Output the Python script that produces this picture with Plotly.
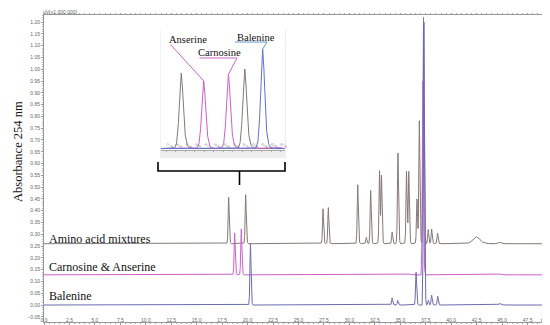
import numpy as np
import plotly.graph_objects as go

# ---------------- data ----------------
# Amino acid mixtures: retention time (min), apex absorbance, relative peak width
amino_rt = [18.14, 19.81, 27.41, 27.93, 30.82, 31.66, 32.09, 32.96, 33.15, 34.20, 34.77,
            35.61, 35.83, 36.64, 36.87, 37.28, 37.74, 38.08, 38.66, 42.47, 44.76]
amino_h = [0.457, 0.468, 0.408, 0.413, 0.510, 0.287, 0.486, 0.570, 0.546, 0.310, 0.645,
           0.567, 0.564, 0.450, 0.780, 1.220, 0.320, 0.322, 0.305, 0.290, 0.266]
amino_w = [1, 1, 1, 1, 1, 1, 1, 1, 1, 1, 1, 1, 1, 1, 1, 1, 1, 1, 1, 6.5, 2.5]
amino_base = 0.26

# Carnosine & Anserine
carn_rt = [18.73, 19.38, 20.70, 34.80, 35.90, 36.20, 37.22, 44.76]
carn_h = [0.305, 0.322, 0.131, 0.131, 0.132, 0.131, 0.950, 0.132]
carn_w = [1, 1, 1, 1, 1, 1, 1, 2.5]
carn_base = 0.128

# Balenine
bal_rt = [20.28, 34.20, 34.75, 36.55, 37.32, 37.75, 38.08, 38.68, 44.76]
bal_h = [0.260, 0.030, 0.020, 0.139, 1.200, 0.020, 0.042, 0.037, 0.006]
bal_w = [1, 1, 1, 1, 1, 1, 1, 1, 2.5]
bal_base = 0.0

series_names = ["Amino acid mixtures", "Carnosine & Anserine", "Balenine"]
inset_names = ["Anserine", "Carnosine", "Balenine"]

x_tickvals = [0, 2.5, 5, 7.5, 10, 12.5, 15, 17.5, 20, 22.5, 25, 27.5, 30, 32.5, 35, 37.5,
              40, 42.5, 45, 47.5, 49.2]
x_ticktext = ["0.0", "2.5", "5.0", "7.5", "10.0", "12.5", "15.0", "17.5", "20.0", "22.5",
              "25.0", "27.5", "30.0", "32.5", "35.0", "37.5", "40.0", "42.5", "45.0",
              "47.5", "min"]

# ---------------- peak rendering (shape template) ----------------
tpl_dt = np.array([-0.18, -0.13, -0.09, -0.055, -0.027, 0.0, 0.027, 0.055, 0.09, 0.13, 0.18, 0.26])
tpl_rel = np.array([0.0, 0.05, 0.20, 0.55, 0.88, 1.0, 0.88, 0.56, 0.24, 0.09, 0.02, 0.0])
t = np.arange(0, 50.0001, 0.005)


def trace_signal(rts, hs, ws, base):
    y = np.full_like(t, base)
    for rt, h, w in zip(rts, hs, ws):
        y += (h - base) * np.interp(t - rt, tpl_dt * w, tpl_rel, left=0, right=0)
    return y


y_amino = trace_signal(amino_rt, amino_h, amino_w, amino_base)
y_carn = trace_signal(carn_rt, carn_h, carn_w, carn_base)
y_bal = trace_signal(bal_rt, bal_h, bal_w, bal_base)

c_amino = "#857878"
c_carn = "#cc5fcc"
c_bal = "#6a6ab0"

fig = go.Figure()
for y, c in [(y_amino, c_amino), (y_carn, c_carn), (y_bal, c_bal)]:
    fig.add_trace(go.Scatter(x=t, y=y, mode="lines", line=dict(color=c, width=1),
                             hoverinfo="skip", xaxis="x", yaxis="y"))

# inset: same chromatograms, baseline removed
INSET_X = [17.6, 20.86]
INSET_Y = [-0.003, 0.31]
m = (t >= INSET_X[0]) & (t <= INSET_X[1])
for y, b, c in [(y_amino, amino_base, c_amino), (y_carn, carn_base, c_carn),
                (y_bal, bal_base, "#5f72cc")]:
    fig.add_trace(go.Scatter(x=t[m], y=y[m] - b, mode="lines", line=dict(color=c, width=1),
                             hoverinfo="skip", xaxis="x2", yaxis="y2"))

# ---------------- geometry helpers (pixel -> paper) ----------------
W, H = 550, 325
L, R, T, B = 36, 5, 7, 11
PW, PH = W - L - R, H - T - B


def px(x):
    return (x - L) / PW


def py(y):
    return (H - B - y) / PH


inset_dom_x = [px(152.7), px(276.7)]
inset_dom_y = [py(141.7), py(22)]


def ix(v):
    return inset_dom_x[0] + (v - INSET_X[0]) / (INSET_X[1] - INSET_X[0]) * (inset_dom_x[1] - inset_dom_x[0])


def iy(v):
    return inset_dom_y[0] + (v - INSET_Y[0]) / (INSET_Y[1] - INSET_Y[0]) * (inset_dom_y[1] - inset_dom_y[0])


tickfont = dict(family="Liberation Sans", size=5, color="#666")

fig.update_layout(
    width=W, height=H,
    margin=dict(l=L, r=R, t=T, b=B),
    paper_bgcolor="white", plot_bgcolor="white",
    showlegend=False,
    xaxis=dict(range=[0, 50], domain=[0, 1], showgrid=False, zeroline=False,
               showline=True, linecolor="#999", linewidth=1, mirror="allticks",
               ticks="outside", ticklen=1.5, tickcolor="#999", tickwidth=0.6,
               tickvals=x_tickvals, ticktext=x_ticktext, tickfont=tickfont,
               ticklabelstandoff=-9,
               minor=dict(ticks="outside", ticklen=1.2, dtick=0.5, tickcolor="#aaa"),
               automargin=False),
    yaxis=dict(range=[-0.072, 1.23], domain=[0, 1], showgrid=False, zeroline=False,
               showline=True, linecolor="#999", linewidth=1, mirror=True,
               ticks="outside", ticklen=2, tickcolor="#999", tickwidth=0.6,
               dtick=0.05, tick0=0, tickformat=".2f", tickfont=tickfont,
               minor=dict(ticks="outside", ticklen=1, dtick=0.01, tickcolor="#bbb"),
               automargin=False),
    xaxis2=dict(range=INSET_X, domain=inset_dom_x, anchor="y2", showgrid=False,
                zeroline=False, showline=True, linecolor="#aaa", linewidth=0.8,
                ticks="outside", ticklen=1.5, tickcolor="#aaa", dtick=0.25,
                ticklabelstandoff=-11,
                tickformat=".2f", tickfont=dict(family="Liberation Sans", size=3, color="#777"),
                automargin=False),
    yaxis2=dict(range=INSET_Y, domain=inset_dom_y, anchor="x2", visible=False),
)

shapes = []
# inset background
shapes.append(dict(type="rect", xref="paper", yref="paper", layer="below",
                   x0=px(152), x1=px(278), y0=py(150), y1=py(22),
                   fillcolor="#eeeeee", line=dict(width=0)))
# bracket under inset
shapes.append(dict(type="path", xref="paper", yref="paper",
                   path=f"M {px(150)} {py(154)} L {px(150)} {py(163)} L {px(277)} {py(163)} L {px(277)} {py(154)} "
                        f"M {px(231.5)} {py(163)} L {px(231.5)} {py(177)}",
                   line=dict(color="black", width=1.6)))
# pointer lines in inset
ans_apex = (ix(carn_rt[0]), iy(carn_h[0] - carn_base))
car_apex = (ix(carn_rt[1]), iy(carn_h[1] - carn_base))
bal_apex = (ix(bal_rt[0]), iy(bal_h[0] - bal_base))
shapes.append(dict(type="path", xref="paper", yref="paper",
                   path=f"M {px(162.5)} {py(36.5)} L {ans_apex[0]} {ans_apex[1]}",
                   line=dict(color="#cc66cc", width=1)))
shapes.append(dict(type="path", xref="paper", yref="paper",
                   path=f"M {px(191.5)} {py(50)} L {px(229)} {py(50)} L {car_apex[0]} {car_apex[1]}",
                   line=dict(color="#cc66cc", width=1)))
shapes.append(dict(type="path", xref="paper", yref="paper",
                   path=f"M {px(227)} {py(34)} L {px(259)} {py(34)} L {bal_apex[0]} {bal_apex[1]}",
                   line=dict(color="#6699cc", width=1)))
fig.update_layout(shapes=shapes)

serif = "Liberation Serif"
ann = []
ann.append(dict(text="Absorbance 254 nm", xref="paper", yref="paper", x=px(9.5), y=py(143.5),
                textangle=-90, showarrow=False, xanchor="center", yanchor="middle",
                font=dict(family=serif, size=12.5, color="#111")))
ann.append(dict(text="uV(x1,000,000)", xref="paper", yref="paper", x=px(33), y=py(4.5),
                showarrow=False, xanchor="left", yanchor="middle",
                font=dict(family="Liberation Sans", size=5, color="#666")))
for name, yy in zip(series_names, [230.5, 258.5, 287.5]):
    ann.append(dict(text=name, xref="paper", yref="paper", x=px(38.5), y=py(yy),
                    showarrow=False, xanchor="left", yanchor="middle",
                    font=dict(family=serif, size=12, color="#111")))
for name, (cx, cy) in zip(inset_names, [(179.7, 31.5), (211, 44.5), (247.5, 29)]):
    ann.append(dict(text=name, xref="paper", yref="paper", x=px(cx), y=py(cy),
                    showarrow=False, xanchor="center", yanchor="middle",
                    font=dict(family=serif, size=10.5, color="#111")))
fig.update_layout(annotations=ann)

fig.write_html("out.html")
